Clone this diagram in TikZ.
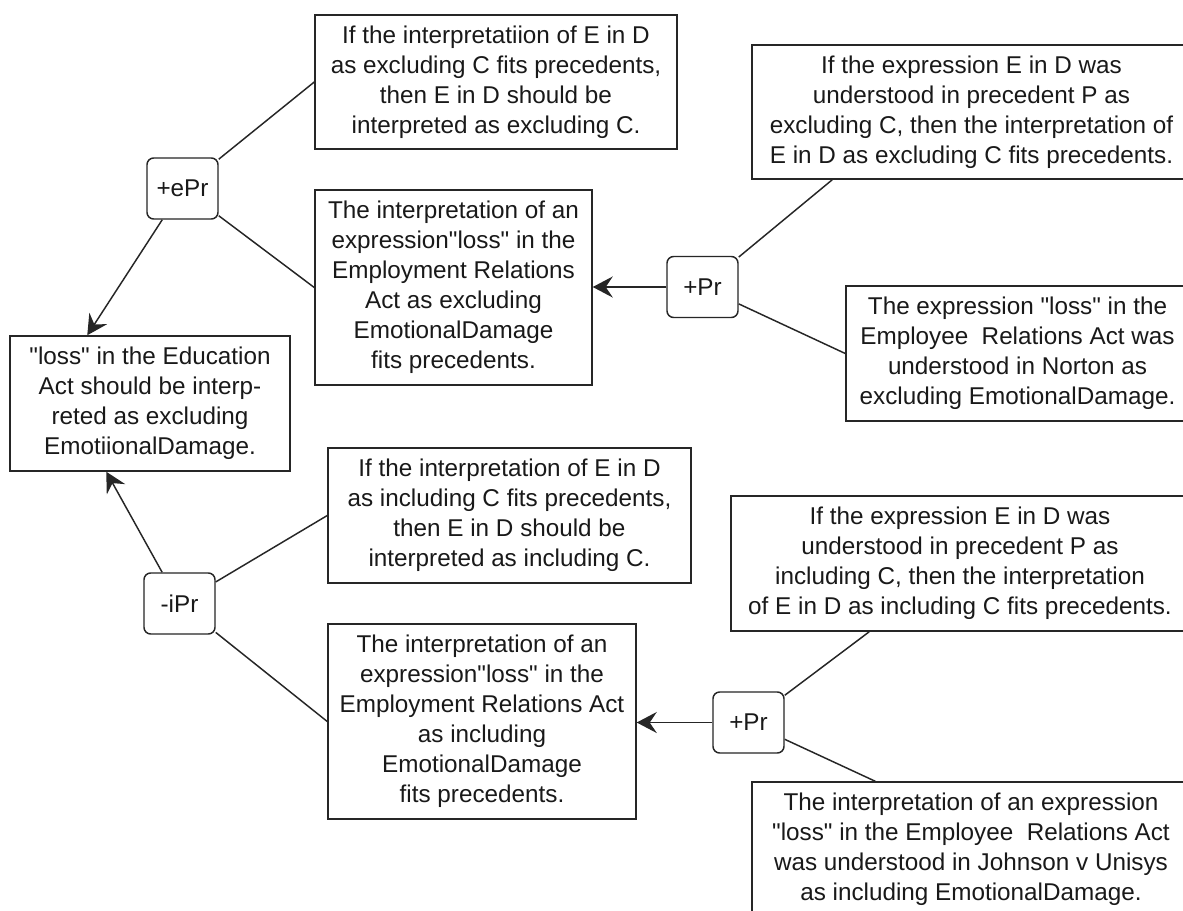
\documentclass[tikz,border=0pt]{standalone}
\usepackage{fontspec}
\setmainfont{Liberation Sans}[Ligatures=TeXOff]
\usetikzlibrary{arrows.meta,calc}
\tikzset{
  txtbox/.style={draw=black!85, line width=1.1pt, inner sep=0pt, align=center,
    font=\fontsize{18.2pt}{22.5pt}\selectfont, text=black!90},
  argnode/.style={txtbox, rounded corners=5pt, minimum width=71*0.75pt, minimum height=61*0.75pt},
  conn/.style={draw=black!85, line width=1.1pt},
  arr/.style={conn, -{Stealth[length=20*0.75pt, width=21*0.75pt, inset=7*0.75pt]}}
}
\begin{document}
\begin{tikzpicture}[x=0.75pt, y=-0.75pt]
\useasboundingbox (0,0) rectangle (1183,911);
\clip (0,0) rectangle (1183,911);
\fill[white] (0,0) rectangle (1183,911);

% left column
\node[txtbox, minimum width=280*0.75pt, minimum height=135*0.75pt] (edu) at (150,403.5)
  {"loss" in the Education\\Act should be interp-\\reted as excluding\\EmotiionalDamage.};
\node[argnode] (ePr) at (182.5,188.5) {+ePr};
\node[argnode] (iPr) at (179.5,603.5) {-iPr};

% upper branch
\node[txtbox, minimum width=362*0.75pt, minimum height=134*0.75pt] (exrule) at (496,82)
  {If the interpretatiion of E in D\\as excluding C fits precedents,\\then E in D should be\\interpreted as excluding C.};
\node[txtbox, minimum width=277*0.75pt, minimum height=195*0.75pt] (erex) at (453.5,287.5)
  {The interpretation of an\\expression"loss" in the\\Employment Relations\\Act as excluding\\EmotionalDamage\\fits precedents.};
\node[argnode] (prA) at (702.5,287) {+Pr};
\node[txtbox, minimum width=439*0.75pt, minimum height=134*0.75pt] (trA) at (971.5,112)
  {If the expression E in D was\\understood in precedent P as\\excluding C, then the interpretation of\\E in D as excluding C fits precedents.};
\node[txtbox, minimum width=343*0.75pt, minimum height=135*0.75pt] (norton) at (1017.5,353.5)
  {The expression "loss" in the\\Employee\ \ Relations Act was\\understood in Norton as\\excluding EmotionalDamage.};

% lower branch
\node[txtbox, minimum width=363*0.75pt, minimum height=135*0.75pt] (inrule) at (509.5,515.5)
  {If the interpretation of E in D\\as including C fits precedents,\\then E in D should be\\interpreted as including C.};
\node[txtbox, minimum width=308*0.75pt, minimum height=195*0.75pt] (erin) at (482,721.5)
  {The interpretation of an\\expression"loss" in the\\Employment Relations Act\\as including\\EmotionalDamage\\fits precedents.};
\node[argnode] (prB) at (748.5,722.5) {+Pr};
\node[txtbox, minimum width=458*0.75pt, minimum height=135*0.75pt] (trB) at (960,563.5)
  {If the expression E in D was\\understood in precedent P as\\including C, then the interpretation\\of E in D as including C fits precedents.};
\node[txtbox, minimum width=438*0.75pt, minimum height=135*0.75pt] (johnson) at (971,849.5)
  {The interpretation of an expression\\"loss" in the Employee\ \ Relations Act\\was understood in Johnson v Unisys\\as including EmotionalDamage.};

% anchor coordinates
\coordinate (eduTop) at ($(edu.north west)+(78,0)$);
\coordinate (eduBot) at ($(edu.south west)+(97,0)$);
\coordinate (trAbot) at ($(trA.south west)+(81,0)$);
\coordinate (trBbot) at ($(trB.south west)+(139,0)$);
\coordinate (johnTop) at ($(johnson.north west)+(124,0)$);

% connectors
\draw[arr] (ePr) -- (eduTop);
\draw[arr] (iPr) -- (eduBot);
\draw[conn] (exrule.west) -- (ePr);
\draw[conn] (erex.west) -- (ePr);
\draw[conn] (inrule.west) -- (iPr);
\draw[conn] (erin.west) -- (iPr);
\draw[arr] (prA.west) -- (erex.east |- prA.west);
\draw[conn] (trAbot) -- (prA);
\draw[conn] (norton.west) -- (prA);
\draw[arr] (prB.west) -- (erin.east |- prB.west);
\draw[conn] (trBbot) -- (prB);
\draw[conn] (johnTop) -- (prB);
\end{tikzpicture}
\end{document}
